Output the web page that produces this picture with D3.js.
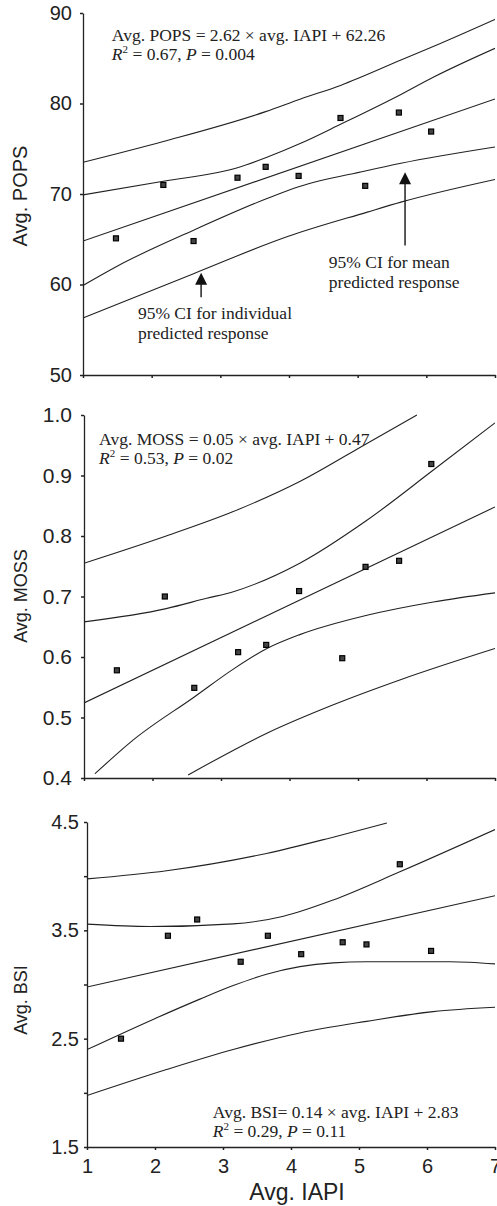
<!DOCTYPE html>
<html>
<head>
<meta charset="utf-8">
<script src="https://cdn.jsdelivr.net/npm/d3@7"></script>
<style>
  body { margin: 0; background: #fff; }
  svg { display: block; }
  .tick text { font-family: "Liberation Sans", Arial, sans-serif; fill: #222; }
  .note { font-family: "Liberation Serif", "Times New Roman", serif; font-size: 17.5px; fill: #222; }
  .title { font-family: "Liberation Sans", Arial, sans-serif; fill: #222; }
</style>
</head>
<body>
<svg id="chart" width="497" height="1206"></svg>
<script>
// points (avg. IAPI on x)
const popsX = [1.48, 2.17, 2.61, 3.25, 3.66, 4.14, 4.75, 5.11, 5.6, 6.07]
const popsY = [65.1, 71.0, 64.8, 71.8, 73.0, 72.0, 78.4, 70.9, 79.0, 76.9]
const mossX = [1.48, 2.18, 2.61, 3.25, 3.66, 4.14, 4.77, 5.11, 5.6, 6.07]
const mossY = [0.578, 0.700, 0.549, 0.608, 0.620, 0.709, 0.598, 0.749, 0.759, 0.919]
const bsiX = [1.5, 2.19, 2.62, 3.26, 3.66, 4.15, 4.76, 5.11, 5.6, 6.06]
const bsiY = [2.50, 3.45, 3.60, 3.21, 3.45, 3.28, 3.39, 3.37, 4.11, 3.31]

// fit line and 95% bands
const popsPIHi = [[1, 73.5], [2.17, 75.8], [3.66, 79.1], [4.17, 80.5], [4.75, 82.0], [5.63, 84.8], [6.1, 86.3], [7, 89.3]]
const popsCIHi = [[1, 69.9], [2.17, 71.4], [3.25, 72.9], [3.66, 74.0], [4.17, 75.6], [4.75, 77.7], [5.63, 81.0], [6.1, 82.9], [7, 86.1]]
const popsFit = [[1, 64.8], [7, 80.5]]
const popsCILo = [[1, 59.9], [1.49, 62.0], [2.61, 66.0], [3.68, 69.5], [4.14, 70.8], [5.11, 72.55], [5.63, 73.4], [7, 75.2]]
const popsPILo = [[1, 56.3], [2.61, 61.2], [3.98, 65.3], [5.14, 68.0], [5.63, 69.1], [7, 71.6]]

const mossPIHi = [[1, 0.755], [2.2, 0.80], [3.17, 0.84], [4.15, 0.89], [5.13, 0.953], [5.86, 1.0]]
const mossCIHi = [[1, 0.658], [2.2, 0.68], [2.79, 0.697], [3.18, 0.708], [4.15, 0.755], [5.13, 0.826], [6.1, 0.909], [7, 0.987]]
const mossFit = [[1, 0.524], [7, 0.848]]
const mossCILo = [[1.16, 0.407], [1.72, 0.463], [2.61, 0.534], [3.18, 0.58], [3.67, 0.614], [4.15, 0.637], [5.13, 0.669], [6.1, 0.691], [7, 0.706]]
const mossPILo = [[2.52, 0.405], [3.67, 0.474], [4.64, 0.521], [5.61, 0.562], [7, 0.614]]

const bsiPIHi = [[1, 3.975], [2.17, 4.05], [3.64, 4.21], [4.62, 4.36], [5.41, 4.49]]
const bsiCIHi = [[1, 3.557], [1.93, 3.535], [3.15, 3.56], [3.89, 3.63], [4.62, 3.78], [5.6, 4.04], [7, 4.43]]
const bsiFit = [[1, 2.977], [7, 3.82]]
const bsiCILo = [[1, 2.399], [1.98, 2.68], [2.66, 2.865], [3.15, 2.99], [3.64, 3.095], [4.13, 3.165], [4.62, 3.20], [5.11, 3.21], [6.34, 3.21], [7, 3.19]]
const bsiPILo = [[1, 1.975], [2.17, 2.215], [3.15, 2.40], [4.13, 2.553], [5.11, 2.66], [6.09, 2.75], [7, 2.79]]

const xTicks = [1, 2, 3, 4, 5, 6, 7]
const popsTicks = [50, 60, 70, 80, 90]
const mossTicks = [0.4, 0.5, 0.6, 0.7, 0.8, 0.9, 1.0]
const bsiTicks = [1.5, 2, 2.5, 3, 3.5, 4, 4.5]
const bsiLabelled = [1.5, 2.5, 3.5, 4.5]

const ink = '#222'
const svg = d3.select('#chart')

function panel(p) {
  const x = d3.scaleLinear().domain([1, 7]).range([p.left, 495])
  const y = d3.scaleLinear().domain(p.yDomain).range([p.bottom, p.top])
  const g = svg.append('g')

  const clipId = 'clip-' + p.id
  svg.append('clipPath').attr('id', clipId).append('rect')
    .attr('x', p.left).attr('y', p.top - 1)
    .attr('width', 495 - p.left).attr('height', p.bottom - p.top + 1)

  const line = d3.line().x(d => x(d[0])).y(d => y(d[1])).curve(d3.curveMonotoneX)
  const curves = g.append('g').attr('clip-path', `url(#${clipId})`)
  p.lines.forEach(l => {
    curves.append('path').attr('d', line(l))
      .attr('fill', 'none').attr('stroke', ink).attr('stroke-width', 1.1)
  })

  g.append('g').selectAll('rect')
    .data(d3.zip(p.xs, p.ys))
    .join('rect')
    .attr('x', d => x(d[0]) - 2.5).attr('y', d => y(d[1]) - 2.5)
    .attr('width', 5).attr('height', 5)
    .attr('fill', '#444').attr('stroke', '#000').attr('stroke-width', 1.2)

  const xAxis = d3.axisBottom(x).tickValues(xTicks).tickSize(3).tickSizeOuter(0)
    .tickPadding(9).tickFormat(p.xLabels ? d3.format('d') : '')
  const gx = g.append('g').attr('transform', `translate(0,${p.bottom})`).call(xAxis)
  gx.selectAll('text').style('font-size', '20px')

  const yAxis = d3.axisLeft(y).tickValues(p.yTicks).tickSize(3).tickSizeOuter(0)
    .tickPadding(p.yPad).tickFormat(p.yFormat)
  const gy = g.append('g').attr('transform', `translate(${p.left},0)`).call(yAxis)
  gy.selectAll('text').style('font-size', p.tickFont + 'px')

  ;[gx, gy].forEach(a => {
    a.select('.domain').attr('stroke', ink).attr('stroke-width', 1.3)
    a.selectAll('.tick line').attr('stroke', ink).attr('stroke-width', 1.5)
  })

  svg.append('text').attr('class', 'title')
    .attr('transform', `translate(27,${p.titleY}) rotate(-90)`)
    .attr('text-anchor', 'middle').style('font-size', p.titleFont + 'px')
    .text(p.title)

  const eq = svg.append('text').attr('class', 'note')
    .attr('x', x(p.eqAt[0])).attr('y', y(p.eqAt[1]))
  eq.append('tspan').text(p.eq)
  const r2 = svg.append('text').attr('class', 'note')
    .attr('x', x(p.eqAt[0])).attr('y', y(p.eqAt[1]) + 19)
  r2.append('tspan').style('font-style', 'italic').text('R')
  r2.append('tspan').attr('dy', -7).style('font-size', '11px').text('2')
  r2.append('tspan').attr('dy', 7).text(' = ' + p.r2 + ', ')
  r2.append('tspan').style('font-style', 'italic').text('P')
  r2.append('tspan').text(' = ' + p.pv)

  return { x, y, g }
}

const popsPanel = panel({
  id: 'pops', left: 83, top: 13, bottom: 375, yDomain: [50, 90], yTicks: popsTicks,
  yFormat: d3.format('d'), yPad: 8, tickFont: 20, xLabels: false,
  xs: popsX, ys: popsY, lines: [popsPIHi, popsCIHi, popsFit, popsCILo, popsPILo],
  title: 'Avg. POPS', titleY: 196, titleFont: 20,
  eq: 'Avg. POPS = 2.62 \u00d7 avg. IAPI + 62.26', eqAt: [1.42, 86.9], r2: '0.67', pv: '0.004'
})

panel({
  id: 'moss', left: 84, top: 415, bottom: 778, yDomain: [0.4, 1.0], yTicks: mossTicks,
  yFormat: d3.format('.1f'), yPad: 9, tickFont: 21, xLabels: false,
  xs: mossX, ys: mossY, lines: [mossPIHi, mossCIHi, mossFit, mossCILo, mossPILo],
  title: 'Avg. MOSS', titleY: 596, titleFont: 18,
  eq: 'Avg. MOSS = 0.05 \u00d7 avg. IAPI + 0.47', eqAt: [1.22, 0.95], r2: '0.53', pv: '0.02'
})

panel({
  id: 'bsi', left: 87, top: 822, bottom: 1147, yDomain: [1.5, 4.5], yTicks: bsiTicks,
  yFormat: d => bsiLabelled.includes(d) ? d3.format('.1f')(d) : '', yPad: 5, tickFont: 20, xLabels: true,
  xs: bsiX, ys: bsiY, lines: [bsiPIHi, bsiCIHi, bsiFit, bsiCILo, bsiPILo],
  title: 'Avg. BSI', titleY: 1000, titleFont: 18,
  eq: 'Avg. BSI= 0.14 \u00d7 avg. IAPI + 2.83', eqAt: [2.85, 1.77], r2: '0.29', pv: '0.11'
})

svg.append('text').attr('class', 'title')
  .attr('x', 297).attr('y', 1200).attr('text-anchor', 'middle')
  .style('font-size', '23px').text('Avg. IAPI')

// arrows and labels in the POPS panel
const arrows = [
  { x: 2.72, tip: 61.3, tail: 58.6, label: ['95% CI for individual', 'predicted response'], lx: 1.8, ly: 56.2 },
  { x: 5.69, tip: 72.4, tail: 64.3, label: ['95% CI for mean', 'predicted response'], lx: 4.58, ly: 61.8 }
]
arrows.forEach(a => {
  const ax = popsPanel.x(a.x), ty = popsPanel.y(a.tip), by = popsPanel.y(a.tail)
  svg.append('line').attr('x1', ax).attr('x2', ax).attr('y1', ty + 8).attr('y2', by)
    .attr('stroke', ink).attr('stroke-width', 1.5)
  svg.append('path')
    .attr('d', `M${ax},${ty} L${ax - 6},${ty + 12} L${ax + 6},${ty + 12} Z`)
    .attr('fill', '#111')
  a.label.forEach((t, i) => {
    svg.append('text').attr('class', 'note')
      .attr('x', popsPanel.x(a.lx)).attr('y', popsPanel.y(a.ly) + i * 20).text(t)
  })
})
</script>
</body>
</html>
